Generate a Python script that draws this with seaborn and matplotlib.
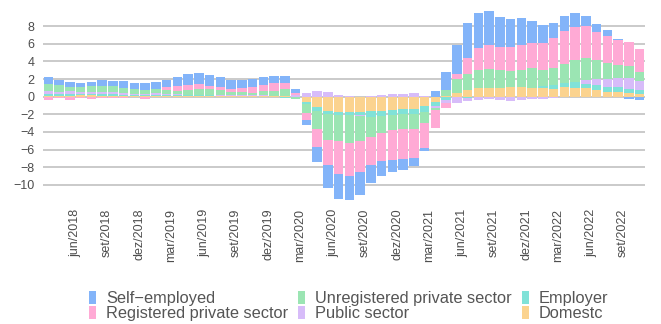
import numpy as np
import pandas as pd
import matplotlib
matplotlib.use("Agg")
import matplotlib.pyplot as plt
from matplotlib.patches import Patch
from matplotlib.transforms import ScaledTranslation
import seaborn as sns

# ---------------- data ----------------
month_abbr = ["jan", "fev", "mar", "abr", "mai", "jun", "jul", "ago", "set", "out", "nov", "dez"]
start_year, start_month, n_months = 2018, 4, 56
months = [f"{month_abbr[(start_month - 1 + i) % 12]}/{start_year + (start_month - 1 + i) // 12}"
          for i in range(n_months)]

self_employed = [0.83, 0.60, 0.64, 0.50, 0.46, 0.69, 0.54, 0.75, 0.68, 0.76, 0.72, 0.83, 0.99, 1.25,
                 1.25, 1.25, 1.13, 1.02, 0.87, 0.94, 0.90, 0.87, 0.83, 0.41, -0.57, -1.70, -2.57, -2.87,
                 -2.72, -2.60, -2.00, -1.66, -1.32, -1.20, -0.91, -0.30, 0.68, 2.04, 3.28, 3.96, 3.92, 3.85,
                 3.40, 3.17, 3.05, 2.49, 2.04, 1.70, 1.70, 1.58, 1.13, 0.91, 0.68, 0.11, -0.23, -0.34]
registered = [-0.35, -0.20, -0.35, -0.10, -0.25, -0.10, -0.10, -0.10, -0.05, -0.25, 0.05, 0.27, 0.56, 0.57,
              0.57, 0.38, 0.34, 0.30, 0.53, 0.68, 0.68, 0.87, 0.68, 0.30, -0.75, -2.00, -2.84, -3.70,
              -3.70, -3.51, -3.17, -3.17, -3.40, -3.36, -3.20, -2.79, -2.00, -0.57, 0.57, 1.78, 2.49, 2.72,
              2.56, 2.71, 2.79, 2.83, 3.06, 3.39, 3.69, 3.70, 3.58, 3.17, 3.06, 2.84, 2.68, 2.57]
unregistered = [0.80, 0.75, 0.46, 0.57, 0.63, 0.63, 0.67, 0.60, 0.55, 0.45, 0.50, 0.49, 0.35, 0.53,
                0.64, 0.60, 0.60, 0.40, 0.34, 0.20, 0.50, 0.50, 0.75, -0.20, -1.06, -2.04, -2.98, -2.91,
                -3.17, -2.76, -2.31, -1.96, -1.69, -1.74, -1.78, -1.28, -0.26, 0.64, 1.58, 1.81, 2.04, 2.11,
                2.04, 1.82, 1.97, 2.23, 1.81, 1.93, 2.23, 2.49, 2.50, 2.15, 1.81, 1.43, 1.36, 1.06]
public = [0.28, 0.28, 0.30, 0.22, 0.25, 0.30, 0.23, 0.20, 0.12, 0.10, 0.12, 0.10, 0.10, 0.07,
          0.08, 0.08, 0.05, 0.05, 0.05, 0.05, 0.05, 0.05, 0.00, 0.15, 0.38, 0.64, 0.53, 0.19,
          0.05, -0.20, 0.10, 0.20, 0.30, 0.30, 0.42, 0.05, -0.20, -0.30, -0.68, -0.25, -0.34, -0.23,
          -0.34, -0.45, -0.34, -0.23, -0.23, -0.10, 0.00, 0.00, 0.45, 0.68, 0.94, 1.06, 1.24, 0.98]
employer = [0.23, 0.20, 0.20, 0.12, 0.12, 0.20, 0.20, 0.15, 0.15, 0.12, 0.12, 0.10, 0.10, 0.07,
            0.07, 0.07, 0.05, 0.05, 0.05, 0.03, 0.05, 0.03, -0.15, 0.00, -0.23, -0.42, -0.30, -0.37,
            -0.37, -0.30, -0.64, -0.53, -0.57, -0.56, -0.53, -0.68, -0.49, -0.42, 0.00, -0.20, -0.05, 0.00,
            0.00, 0.00, 0.00, 0.00, 0.30, 0.45, 0.42, 0.68, 0.45, 0.53, 0.49, 0.52, 0.49, 0.45]
domestic = [0.12, 0.08, 0.10, 0.15, 0.20, 0.08, 0.10, 0.08, 0.05, 0.10, 0.12, 0.10, 0.10, 0.08,
            0.07, 0.07, 0.06, 0.07, 0.05, 0.10, 0.05, 0.05, 0.08, -0.08, -0.60, -1.20, -1.62, -1.74,
            -1.74, -1.74, -1.62, -1.62, -1.51, -1.40, -1.40, -1.06, -0.60, 0.08, 0.42, 0.79, 1.02, 1.02,
            1.02, 1.09, 1.09, 1.02, 0.94, 0.87, 1.09, 1.02, 1.02, 0.79, 0.57, 0.57, 0.42, 0.34]

tick_months = months[2::3]

# stacking order from zero outward
series = [
    ("Domestc", domestic, "#FBD38F"),
    ("Employer", employer, "#80E2D8"),
    ("Public sector", public, "#D7BCF9"),
    ("Unregistered private sector", unregistered, "#9BE5B3"),
    ("Registered private sector", registered, "#FFAAD5"),
    ("Self\u2212employed", self_employed, "#83B4F9"),
]

# ---------------- plot ----------------
sns.set_theme(style="white")
plt.rcParams["font.family"] = ["Liberation Sans", "DejaVu Sans"]

W, H = 661, 324
fig = plt.figure(figsize=(W / 100, H / 100), dpi=100)
ax = fig.add_axes([43 / W, 1 - 204.4 / H, (645 - 43) / W, (204.4 - 6.6) / H])

pos_base = np.zeros(n_months)
neg_base = np.zeros(n_months)
colors = {}
for name, vals, color in series:
    v = np.asarray(vals, dtype=float)
    bottom = np.where(v >= 0, pos_base, neg_base)
    df = pd.DataFrame({"month": months, "value": v})
    sns.barplot(data=df, x="month", y="value", order=months, color=color, saturation=1,
                width=0.87, errorbar=None, linewidth=0, bottom=bottom, ax=ax)
    pos_base = pos_base + np.where(v >= 0, v, 0)
    neg_base = neg_base + np.where(v < 0, v, 0)
    colors[name] = color

ax.set_xlim(-0.5, n_months - 0.5)
ax.set_ylim(-12.2, 10.2)
ax.set_yticks(np.arange(-10, 9, 2))
ax.set_xticks([months.index(m) for m in tick_months])
ax.set_xticklabels(tick_months, rotation=90, ha="center", va="top")
ax.set_xlabel("")
ax.set_ylabel("")
for s in ax.spines.values():
    s.set_visible(False)
ax.yaxis.grid(True, color="#C6C6C6", linewidth=1.3)
ax.xaxis.grid(False)
ax.set_axisbelow(True)
ax.tick_params(axis="both", length=0, labelsize=9, colors="#4D4D4D")
ax.tick_params(axis="y", pad=6)
ax.tick_params(axis="x", pad=3)
offset = ScaledTranslation(5 / 100, 0, fig.dpi_scale_trans)
for lab in ax.get_xticklabels():
    lab.set_transform(lab.get_transform() + offset)

legend_order = ["Self\u2212employed", "Registered private sector", "Unregistered private sector",
                "Public sector", "Employer", "Domestc"]
handles = [Patch(facecolor=colors[k], edgecolor="none") for k in legend_order]
fig.legend(handles, legend_order, ncol=3, loc="upper left",
           bbox_to_anchor=(89 / W, 1 - 290.5 / H), frameon=False, fontsize=11.8,
           handlelength=0.43, handleheight=0.85, handletextpad=0.62, columnspacing=0.6,
           labelspacing=0.0, borderpad=0, borderaxespad=0, labelcolor="#555555")

fig.savefig("out.png", dpi=100)
